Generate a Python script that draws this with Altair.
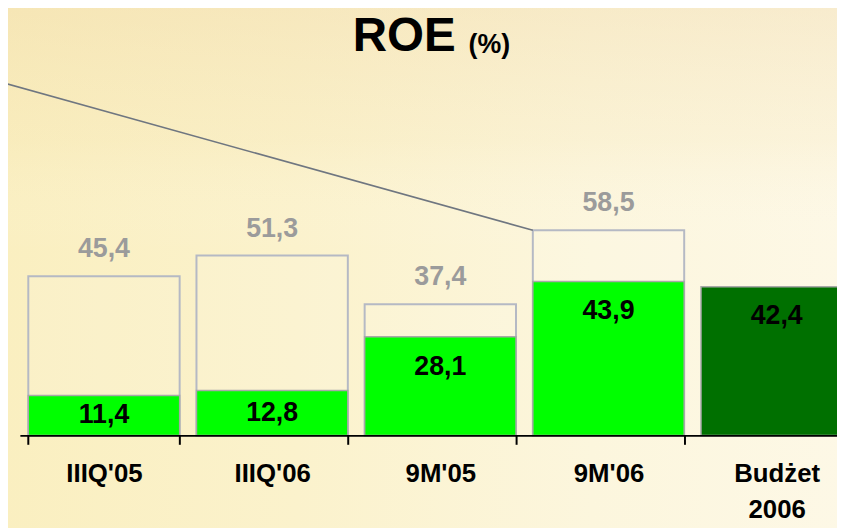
import altair as alt
import pandas as pd

# ---- data ----
categories = ["IIIQ'05", "IIIQ'06", "9M'05", "9M'06", "Budżet 2006"]
target_values = [45.4, 51.3, 37.4, 58.5, None]   # outlined (grey) bars
roe_values = [11.4, 12.8, 28.1, 43.9, 42.4]        # filled bars
bar_kind = ["actual", "actual", "actual", "actual", "budget"]

pointer_cat = ["9M'06"]
pointer_from = [58.5]
pointer_to = [100.8]

df = pd.DataFrame({"cat": categories, "target": target_values,
                   "roe": roe_values, "kind": bar_kind})
df_target = df.dropna(subset=["target"])
df_ptr = pd.DataFrame({"cat": pointer_cat, "y1": pointer_from, "y2": pointer_to})

TOP = 20
W, H = 837, 429 - TOP
FONT = "Liberation Sans, Arial, sans-serif"
step = 169.8

x_scale = alt.Scale(domain=categories, range=[12, 12 + 5 * step],
                    paddingInner=0.1, paddingOuter=0.05)
y_scale = alt.Scale(domain=[0, H / 3.54], nice=False)

x_axis = alt.Axis(
    title=None, labelAngle=0, labelFont=FONT, labelFontSize=26,
    labelFontWeight="bold", labelColor="black", domainColor="black",
    domainWidth=2, tickColor="black", tickWidth=2, tickSize=9,
    tickBand="extent", labelPadding=17, labelLineHeight=36,
    labelOverlap=False, labelBound=False, labelBaseline="top",
    labelExpr="datum.value == 'Budżet 2006' ? ['Budżet', '2006'] : datum.label",
    zindex=1,
)

X = alt.X("cat:N", scale=x_scale, axis=x_axis, sort=categories)
Xn = alt.X("cat:N", scale=x_scale, sort=categories)

one = pd.DataFrame({"a": [0]})

bg = alt.Chart(one).mark_rect(
    color=alt.LinearGradient(
        gradient="linear", x1=0, x2=1, y1=0, y2=0,
        stops=[alt.GradientStop(color="#faefc0", offset=0),
               alt.GradientStop(color="#fbf2cc", offset=0.35),
               alt.GradientStop(color="#fcf6dd", offset=0.7),
               alt.GradientStop(color="#fdf8e6", offset=1)])
).encode(x=alt.value(-8), x2=alt.value(W + 8), y=alt.value(-TOP - 8), y2=alt.value(530))

bg2 = alt.Chart(one).mark_rect(
    color=alt.LinearGradient(
        gradient="linear", x1=0, x2=0, y1=0, y2=1,
        stops=[alt.GradientStop(color="rgba(238,212,160,0.35)", offset=0),
               alt.GradientStop(color="rgba(242,222,170,0.18)", offset=0.25),
               alt.GradientStop(color="rgba(255,255,255,0)", offset=0.45)])
).encode(x=alt.value(-8), x2=alt.value(W + 8), y=alt.value(-TOP - 8), y2=alt.value(530))

outline = alt.Chart(df_target).mark_bar(
    fill="rgba(255,255,255,0.10)", stroke="#b5b9c4", strokeWidth=2
).encode(x=X, y=alt.Y("target:Q", scale=y_scale, axis=None))

filled = alt.Chart(df).mark_bar(stroke="#a8a8a8", strokeWidth=1.5).encode(
    x=Xn,
    y=alt.Y("roe:Q", scale=y_scale, axis=None),
    color=alt.Color("kind:N", scale=alt.Scale(domain=["actual", "budget"],
                                              range=["#00ff00", "#007000"]),
                    legend=None),
)

target_labels = alt.Chart(df_target).transform_calculate(
    lab="replace(format(datum.target, '.1f'), '.', ',')"
).mark_text(dy=-27, baseline="middle", font=FONT, fontSize=27,
            fontWeight="bold", color="#9b9b9b").encode(
    x=Xn, y=alt.Y("target:Q", scale=y_scale, axis=None), text="lab:N")

roe_labels = alt.Chart(df).transform_calculate(
    lab="replace(format(datum.roe, '.1f'), '.', ',')",
    ly="max(datum.roe / 2, datum.roe - 8.5)"
).mark_text(baseline="middle", font=FONT, fontSize=27,
            fontWeight="bold", color="black").encode(
    x=Xn, y=alt.Y("ly:Q", scale=y_scale, axis=None), text="lab:N")

pointer = alt.Chart(df_ptr).mark_rule(color="#6f7680", strokeWidth=1.6).encode(
    x=alt.X("cat:N", scale=x_scale, sort=categories, bandPosition=0),
    x2=alt.value(-8),
    y=alt.Y("y1:Q", scale=y_scale, axis=None),
    y2="y2:Q",
)

title_main = alt.Chart(one).mark_text(
    text="ROE", align="left", baseline="alphabetic", font=FONT,
    fontSize=48, fontWeight="bold", color="black"
).encode(x=alt.value(348), y=alt.value(41 - TOP))

title_unit = alt.Chart(one).mark_text(
    text="(%)", align="left", baseline="alphabetic", font=FONT,
    fontSize=27, fontWeight="bold", color="black"
).encode(x=alt.value(465), y=alt.value(43 - TOP))

chart = alt.layer(
    bg, bg2, outline, filled, target_labels, roe_labels, pointer,
    title_main, title_unit
).properties(
    width=W, height=H,
    autosize=alt.AutoSizeParams(type="none"),
    padding={"left": 0, "top": TOP, "right": 0, "bottom": 91},
).configure_view(stroke=None).configure(background="#fbf5da")

chart.save("out.html", embed_options={"renderer": "svg", "actions": False})
